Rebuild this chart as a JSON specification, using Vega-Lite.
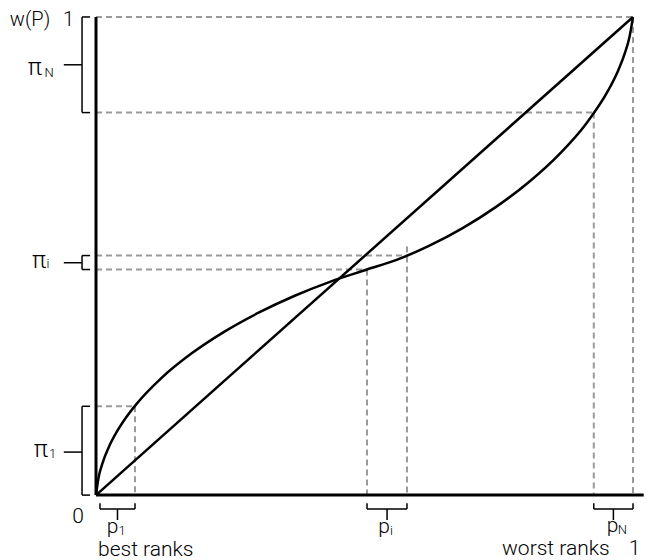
{
  "$schema": "https://vega.github.io/schema/vega-lite/v6.json",
  "width": 649,
  "height": 560,
  "autosize": {"type": "fit", "contains": "padding"},
  "padding": 0,
  "background": "white",
  "config": {"view": {"stroke": null}, "text": {"font": "Roboto", "fontWeight": 300}},
  "datasets": {
    "curve": [
      {"p": 0, "w": 0}, {"p": 0.00438, "w": 0.03428}, {"p": 0.01233, "w": 0.06754},
      {"p": 0.02361, "w": 0.09981}, {"p": 0.03801, "w": 0.13104}, {"p": 0.05531, "w": 0.16117},
      {"p": 0.07523, "w": 0.19027}, {"p": 0.12214, "w": 0.24514}, {"p": 0.17691, "w": 0.29541},
      {"p": 0.23771, "w": 0.34092}, {"p": 0.30274, "w": 0.38146}, {"p": 0.37011, "w": 0.41693},
      {"p": 0.43799, "w": 0.4471}, {"p": 0.50466, "w": 0.47182},
      {"p": 0.55985, "w": 0.49205}, {"p": 0.61998, "w": 0.52113}, {"p": 0.68274, "w": 0.55839},
      {"p": 0.74577, "w": 0.60332}, {"p": 0.8068, "w": 0.65532}, {"p": 0.86346, "w": 0.71367},
      {"p": 0.91343, "w": 0.77791}, {"p": 0.95439, "w": 0.84748}, {"p": 0.97076, "w": 0.88403},
      {"p": 0.98402, "w": 0.92167}, {"p": 0.99387, "w": 0.96035}, {"p": 1, "w": 1}
    ],
    "dashed": [
      {"x": 0, "y": 1, "x2": 1, "y2": 1},
      {"x": 1, "y": 1, "x2": 1, "y2": 0},
      {"x": 0, "y": 0.8, "x2": 0.927, "y2": 0.8},
      {"x": 0.927, "y": 0.8, "x2": 0.927, "y2": 0},
      {"x": 0, "y": 0.501, "x2": 0.5791, "y2": 0.501},
      {"x": 0.5791, "y": 0.52, "x2": 0.5791, "y2": 0},
      {"x": 0, "y": 0.4718, "x2": 0.5047, "y2": 0.4718},
      {"x": 0.5047, "y": 0.4718, "x2": 0.5047, "y2": 0},
      {"x": 0, "y": 0.1858, "x2": 0.0726, "y2": 0.1858},
      {"x": 0.0726, "y": 0.1858, "x2": 0.0726, "y2": 0}
    ],
    "axes": [
      {"x": 0, "y": 0, "x2": 0, "y2": 1},
      {"x": 0, "y": 0, "x2": 1.02, "y2": 0}
    ],
    "diagonal": [
      {"x": 0, "y": 0, "x2": 1, "y2": 1}
    ],
    "brackets": [
      {"x": -0.026, "y": 1, "x2": -0.026, "y2": 0.8},
      {"x": -0.026, "y": 1, "x2": -0.011, "y2": 1},
      {"x": -0.026, "y": 0.8, "x2": -0.011, "y2": 0.8},
      {"x": -0.06, "y": 0.9, "x2": -0.026, "y2": 0.9},
      {"x": -0.026, "y": 0.501, "x2": -0.026, "y2": 0.4718},
      {"x": -0.026, "y": 0.501, "x2": -0.011, "y2": 0.501},
      {"x": -0.026, "y": 0.4718, "x2": -0.011, "y2": 0.4718},
      {"x": -0.06, "y": 0.486, "x2": -0.026, "y2": 0.486},
      {"x": -0.026, "y": 0.1858, "x2": -0.026, "y2": 0},
      {"x": -0.026, "y": 0.1858, "x2": -0.011, "y2": 0.1858},
      {"x": -0.026, "y": 0, "x2": -0.011, "y2": 0},
      {"x": -0.06, "y": 0.09, "x2": -0.026, "y2": 0.09},
      {"x": 0.0074, "y": -0.029, "x2": 0.0726, "y2": -0.029},
      {"x": 0.0074, "y": -0.029, "x2": 0.0074, "y2": -0.017},
      {"x": 0.0726, "y": -0.029, "x2": 0.0726, "y2": -0.017},
      {"x": 0.04, "y": -0.029, "x2": 0.04, "y2": -0.052},
      {"x": 0.5047, "y": -0.029, "x2": 0.5791, "y2": -0.029},
      {"x": 0.5047, "y": -0.029, "x2": 0.5047, "y2": -0.017},
      {"x": 0.5791, "y": -0.029, "x2": 0.5791, "y2": -0.017},
      {"x": 0.542, "y": -0.029, "x2": 0.542, "y2": -0.052},
      {"x": 0.927, "y": -0.029, "x2": 1.0, "y2": -0.029},
      {"x": 0.927, "y": -0.029, "x2": 0.927, "y2": -0.017},
      {"x": 1.0, "y": -0.029, "x2": 1.0, "y2": -0.017},
      {"x": 0.9635, "y": -0.029, "x2": 0.9635, "y2": -0.052}
    ],
    "topLabels": [
      {"x": -0.1229, "y": 0.9812, "t": "w(P)"},
      {"x": -0.0512, "y": 0.9812, "t": "1"}
    ],
    "pis": [
      {"x": -0.1136, "y": 0.8789, "t": "π"},
      {"x": -0.1061, "y": 0.4754, "t": "π"},
      {"x": -0.1024, "y": 0.0793, "t": "π"}
    ],
    "ps": [
      {"x": 0.0307, "y": -0.0793, "t": "p"},
      {"x": 0.5363, "y": -0.0793, "t": "p"},
      {"x": 0.9618, "y": -0.0772, "t": "p"}
    ],
    "subs": [
      {"x": -0.0875, "y": 0.874, "t": "N"},
      {"x": -0.0894, "y": 0.474, "t": "i"},
      {"x": -0.081, "y": 0.0772, "t": "1"},
      {"x": 0.0484, "y": -0.0835, "t": "1"},
      {"x": 0.5503, "y": -0.0835, "t": "i"},
      {"x": 0.9804, "y": -0.0815, "t": "N"}
    ],
    "bottomCenter": [
      {"x": -0.0335, "y": -0.0585, "t": "0"},
      {"x": 1.0028, "y": -0.1253, "t": "1"}
    ],
    "bottomLeft": [
      {"x": 0.0037, "y": -0.1267, "t": "best ranks"},
      {"x": 0.7561, "y": -0.1253, "t": "worst ranks"}
    ]
  },
  "encoding": {
    "x": {"field": "x", "type": "quantitative", "axis": null,
          "scale": {"domain": [-0.17877, 1.0298], "nice": false, "zero": false}},
    "y": {"field": "y", "type": "quantitative", "axis": null,
          "scale": {"domain": [-0.13361, 1.03549], "nice": false, "zero": false}}
  },
  "layer": [
    {"data": {"name": "dashed"},
     "mark": {"type": "rule", "color": "#9a9a9a", "strokeWidth": 2, "strokeDash": [6, 4]},
     "encoding": {"x2": {"field": "x2"}, "y2": {"field": "y2"}}},
    {"data": {"name": "axes"},
     "mark": {"type": "rule", "color": "#000000", "strokeWidth": 3},
     "encoding": {"x2": {"field": "x2"}, "y2": {"field": "y2"}}},
    {"data": {"name": "diagonal"},
     "mark": {"type": "rule", "color": "#000000", "strokeWidth": 2.5},
     "encoding": {"x2": {"field": "x2"}, "y2": {"field": "y2"}}},
    {"data": {"name": "curve"},
     "mark": {"type": "line", "color": "#000000", "strokeWidth": 2.5, "interpolate": "monotone"},
     "encoding": {
       "x": {"field": "p", "type": "quantitative"},
       "y": {"field": "w", "type": "quantitative"}
     }},
    {"data": {"name": "brackets"},
     "mark": {"type": "rule", "color": "#000000", "strokeWidth": 1.5},
     "encoding": {"x2": {"field": "x2"}, "y2": {"field": "y2"}}},
    {"data": {"name": "topLabels"},
     "mark": {"type": "text", "fontSize": 20, "align": "center", "baseline": "alphabetic", "color": "#000000"},
     "encoding": {"text": {"field": "t"}}},
    {"data": {"name": "pis"},
     "mark": {"type": "text", "fontSize": 24, "align": "center", "baseline": "alphabetic", "color": "#000000"},
     "encoding": {"text": {"field": "t"}}},
    {"data": {"name": "ps"},
     "mark": {"type": "text", "fontSize": 21, "align": "center", "baseline": "alphabetic", "color": "#000000"},
     "encoding": {"text": {"field": "t"}}},
    {"data": {"name": "subs"},
     "mark": {"type": "text", "fontSize": 13, "align": "center", "baseline": "alphabetic", "color": "#000000"},
     "encoding": {"text": {"field": "t"}}},
    {"data": {"name": "bottomCenter"},
     "mark": {"type": "text", "fontSize": 21, "align": "center", "baseline": "alphabetic", "color": "#000000"},
     "encoding": {"text": {"field": "t"}}},
    {"data": {"name": "bottomLeft"},
     "mark": {"type": "text", "fontSize": 21, "align": "left", "baseline": "alphabetic", "color": "#000000"},
     "encoding": {"text": {"field": "t"}}}
  ]
}
